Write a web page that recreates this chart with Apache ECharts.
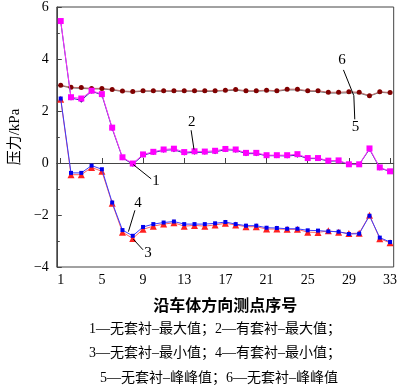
<!DOCTYPE html>
<html><head><meta charset="utf-8">
<script src="https://cdn.jsdelivr.net/npm/echarts@6/dist/echarts.min.js"></script>
<style>html,body{margin:0;padding:0;background:#fff}#c{width:400px;height:391px}</style>
</head><body><div id="c"></div>
<script>
const xTicks = [1,5,9,13,17,21,25,29,33];
const points = Array.from({length:33},(_,i)=>i+1);
const s1 = [5.44,2.50,2.41,2.76,2.62,1.33,0.20,-0.05,0.30,0.40,0.49,0.51,0.38,0.41,0.41,0.43,0.51,0.49,0.36,0.36,0.28,0.28,0.27,0.30,0.17,0.17,0.07,0.08,-0.06,-0.06,0.53,-0.19,-0.33];
const s2 = [5.46,2.53,2.48,2.78,2.65,1.36,0.22,-0.02,0.33,0.43,0.52,0.55,0.42,0.45,0.44,0.47,0.54,0.52,0.39,0.39,0.30,0.30,0.30,0.34,0.19,0.19,0.09,0.10,-0.05,-0.05,0.56,-0.17,-0.32];
const s3 = [2.45,-0.45,-0.45,-0.17,-0.32,-1.55,-2.66,-2.90,-2.55,-2.43,-2.35,-2.30,-2.43,-2.40,-2.43,-2.38,-2.32,-2.38,-2.45,-2.45,-2.54,-2.54,-2.55,-2.55,-2.66,-2.67,-2.61,-2.66,-2.71,-2.70,-2.01,-2.91,-3.07];
const s4 = [2.48,-0.38,-0.38,-0.10,-0.24,-1.52,-2.58,-2.80,-2.46,-2.35,-2.29,-2.25,-2.35,-2.35,-2.35,-2.32,-2.27,-2.35,-2.41,-2.41,-2.49,-2.50,-2.53,-2.53,-2.59,-2.60,-2.63,-2.64,-2.73,-2.72,-2.03,-2.87,-3.04];
const s5 = [2.97,2.89,2.87,2.85,2.85,2.81,2.75,2.73,2.76,2.76,2.76,2.76,2.76,2.76,2.75,2.76,2.78,2.80,2.76,2.76,2.78,2.76,2.81,2.81,2.76,2.75,2.69,2.69,2.70,2.69,2.57,2.72,2.69];
const s6 = [2.99,2.91,2.90,2.87,2.87,2.83,2.77,2.75,2.78,2.78,2.78,2.78,2.78,2.78,2.78,2.78,2.80,2.83,2.78,2.78,2.80,2.78,2.84,2.84,2.78,2.78,2.72,2.72,2.74,2.72,2.59,2.74,2.71];
const legendLines = ['1—无套衬–最大值；2—有套衬–最大值；','3—无套衬–最小值；4—有套衬–最小值；','5—无套衬–峰峰值；6—无套衬–峰峰值'];
// annotation labels: [text, textX, textY, lineFromX, lineFromY, lineToX, lineToY] in data units
const notes = [
  ['1',10.26,-0.70, 8.05,-0.06, 9.79,-0.61],
  ['2',13.72,1.57, 13.67,1.26, 13.95,0.52],
  ['3',9.47,-3.47, 8.05,-2.93, 9.0,-3.34],
  ['4',8.52,-1.56, 8.21,-1.82, 7.58,-2.64],
  ['6',28.32,3.96, 28.47,3.58, 29.48,2.59],
  ['5',29.64,1.38, 29.48,2.59, 29.57,1.68]
];
const serif = '"Liberation Serif","Times New Roman",serif';
const cjk = '"Liberation Serif","Noto Sans CJK SC",serif';
const pair = a => points.map((p,i)=>[p,a[i]]);
const chart = echarts.init(document.getElementById('c'));
function ser(name,data,color,lineColor,symbol,size,z){
  return {name,type:'line',data:pair(data),symbol,symbolSize:size,z,
    lineStyle:{color:lineColor,width:1},itemStyle:{color},animation:false};
}
chart.setOption({
  animation:false,
  grid:{left:50,right:4,top:5,bottom:124,show:true,borderColor:'#444',borderWidth:1},
  xAxis:{type:'value',min:0.62,max:33.35,
    name:'沿车体方向测点序号',nameLocation:'middle',nameGap:32,
    nameTextStyle:{fontFamily:cjk,fontSize:16,fontWeight:'bold',color:'#000'},
    axisLine:{lineStyle:{color:'#444'}},
    axisTick:{inside:true,length:5,customValues:xTicks,lineStyle:{color:'#444'}},
    axisLabel:{customValues:xTicks,fontFamily:serif,fontSize:14,color:'#000',margin:6},
    splitLine:{show:false}},
  yAxis:{type:'value',min:-4,max:6,interval:2,
    name:'压力/kPa',nameLocation:'middle',nameGap:27,
    nameTextStyle:{fontFamily:cjk,fontSize:15,color:'#000'},
    axisLine:{show:true,lineStyle:{color:'#444'}},
    axisTick:{inside:true,length:5,lineStyle:{color:'#444'}},
    minorTick:{show:true,splitNumber:2,length:3,lineStyle:{color:'#444'}},
    axisLabel:{fontFamily:serif,fontSize:14,color:'#000',margin:8,formatter:v=>String(v).replace('-','−')},
    splitLine:{show:false}},
  series:[
    ser('5',s5,'#555','#666','none',0,2),
    ser('6',s6,'#800000','#c07070','circle',5,3),
    ser('3',s3,'#ff2020','#ff6060','triangle',7,4),
    ser('4',s4,'#0000ee','#3a3aff','rect',4,5),
    ser('1',s1,'#1a1a80','#3030a0','diamond',5,6),
    ser('2',s2,'#ff00ff','#ff30ff','rect',6,7)
  ]
});
const g = [];
notes.forEach(n=>{
  const t = chart.convertToPixel({gridIndex:0},[n[1],n[2]]);
  const a = chart.convertToPixel({gridIndex:0},[n[3],n[4]]);
  const b = chart.convertToPixel({gridIndex:0},[n[5],n[6]]);
  g.push({type:'line',shape:{x1:a[0],y1:a[1],x2:b[0],y2:b[1]},style:{stroke:'#000',lineWidth:1},z:20});
  g.push({type:'text',x:t[0],y:t[1],style:{text:n[0],fill:'#000',font:'15px '+serif,textAlign:'center',textVerticalAlign:'middle'},z:20});
});
const ly = [329,353,378];
legendLines.forEach((s,i)=>{
  g.push({type:'text',x:i===2?219:215,y:ly[i],style:{text:s,fill:'#000',font:'14px '+cjk,textAlign:'center',textVerticalAlign:'middle'}});
});
chart.setOption({graphic:g});
</script></body></html>
